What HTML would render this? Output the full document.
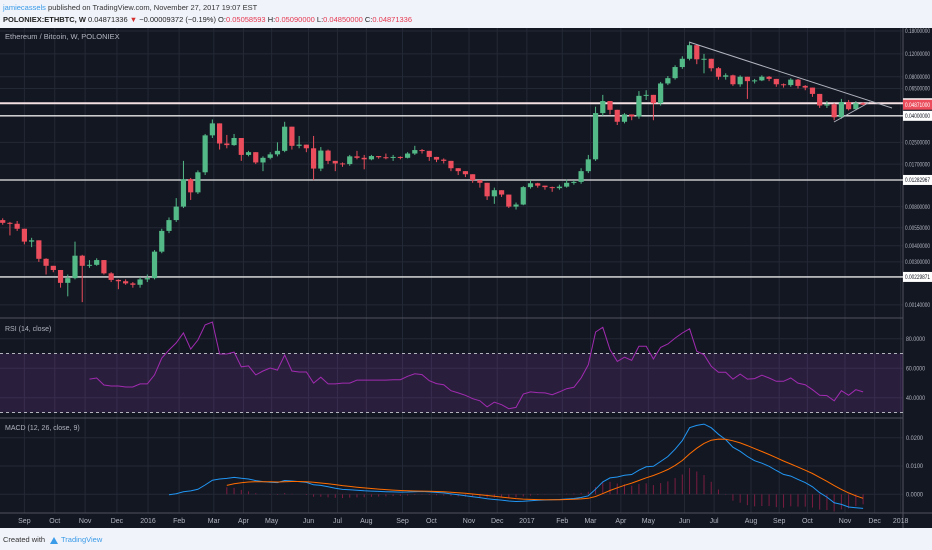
<!DOCTYPE html>
<html><head><meta charset="utf-8"><style>
body{margin:0;width:932px;height:550px;overflow:hidden;background:#f0f3fa;font-family:"Liberation Sans",sans-serif}
svg{display:block}
</style></head><body>
<svg id="c" width="932" height="550" xmlns="http://www.w3.org/2000/svg">
<rect x="0" y="0" width="932" height="550" fill="#f0f3fa"/>
<text x="3" y="10" font-size="7.5" fill="#333"><tspan fill="#3a9be8">jamiecassels</tspan> published on TradingView.com, November 27, 2017 19:07 EST</text>
<text x="3" y="22" font-size="7.5" fill="#222"><tspan font-weight="bold">POLONIEX:ETHBTC, W</tspan> 0.04871336 <tspan fill="#d32f2f">▼</tspan> −0.00009372 (−0.19%) O:<tspan fill="#e53950">0.05058593</tspan> H:<tspan fill="#e53950">0.05090000</tspan> L:<tspan fill="#e53950">0.04850000</tspan> C:<tspan fill="#e53950">0.04871336</tspan></text>
<rect x="0" y="28" width="932" height="500" fill="#131722"/>
<g id="grid"></g>
<g id="panes"></g>
<g id="main"></g>
<g id="ind"></g>
<g id="axis"></g>
<text x="5" y="39" font-size="7.5" fill="#b2b5be">Ethereum / Bitcoin, W, POLONIEX</text>
<text x="5" y="331" font-size="7" fill="#b2b5be">RSI (14, close)</text>
<text x="5" y="430" font-size="7" fill="#b2b5be">MACD (12, 26, close, 9)</text>
<text x="3" y="542" font-size="7.5" fill="#333">Created with</text>
<path d="M50 544 l4 -7 l4 7 z" fill="#3a9be8"/>
<text x="61" y="542" font-size="7.5" fill="#3a9be8">TradingView</text>
</svg>
<script>
const closes=[0.0060,0.0059,0.0054,0.0043,0.0044,0.00317,0.0028,0.0026,0.00207,0.00225,0.00335,0.0028,0.00285,0.0031,0.00245,0.00218,0.00213,0.00205,0.0020,0.0022,0.00225,0.0036,0.0052,0.0063,0.0080,0.0130,0.0103,0.0147,0.0283,0.0350,0.0245,0.0238,0.027,0.020,0.021,0.0175,0.019,0.0202,0.0215,0.033,0.0235,0.024,0.0225,0.0157,0.0216,0.018,0.0172,0.0170,0.0195,0.019,0.0185,0.0196,0.0192,0.019,0.0193,0.019,0.0205,0.0218,0.0215,0.0193,0.0184,0.018,0.0158,0.0150,0.0142,0.0128,0.0122,0.0096,0.0107,0.0099,0.0080,0.0083,0.0113,0.0121,0.0116,0.0113,0.0111,0.0114,0.0122,0.0124,0.0150,0.0185,0.0420,0.052,0.0445,0.036,0.041,0.0395,0.057,0.058,0.050,0.071,0.078,0.095,0.11,0.140,0.109,0.110,0.093,0.080,0.082,0.070,0.080,0.074,0.075,0.080,0.077,0.070,0.069,0.076,0.068,0.066,0.059,0.048,0.049,0.039,0.051,0.045,0.050,0.04871];
const firstOpen=0.0063;
const highs=[.0065,.0061,.0062,.0054,.0046,.0044,.0032,.0028,.0026,.0024,.0043,.0034,.0031,.0032,.0031,.0025,.0022,.0022,.0021,.0023,.0024,.0037,.0054,.0066,.0093,.0180,.0133,.0152,.029,.0375,.035,.0285,.029,.027,.0215,.021,.0195,.021,.025,.036,.033,.028,.024,.028,.023,.022,.018,.0175,.020,.0215,.020,.020,.0196,.0205,.020,.0195,.021,.0235,.0222,.0215,.0193,.0188,.018,.0158,.0150,.0142,.0128,.0122,.0112,.0107,.0099,.0086,.0115,.0128,.0122,.0116,.0114,.0118,.0129,.0128,.0158,.020,.047,.058,.052,.0445,.042,.041,.062,.063,.058,.073,.081,.098,.115,.146,.141,.12,.11,.095,.085,.083,.082,.08,.077,.082,.081,.077,.071,.078,.077,.069,.066,.059,.052,.05,.054,.053,.052,.0509];
const lows=[.0058,.0048,.0052,.0041,.0039,.0030,.0024,.0025,.0019,.00163,.0022,.00147,.0027,.0028,.0024,.0021,.00185,.0020,.0019,.0019,.0021,.0022,.0035,.0050,.0061,.0078,.0090,.0100,.0140,.0270,.0220,.0225,.0235,.0180,.0195,.0170,.0150,.0185,.0195,.021,.022,.0225,.021,.0128,.015,.017,.0150,.0162,.0165,.0185,.0155,.0182,.0187,.0185,.018,.0185,.0188,.020,.0205,.018,.0176,.0172,.015,.0140,.0135,.0122,.0112,.0090,.0084,.0095,.0078,.0076,.0082,.0110,.0112,.0108,.0104,.0108,.0112,.0118,.0120,.0145,.0180,.040,.041,.034,.035,.037,.038,.053,.037,.048,.069,.076,.092,.107,.100,.085,.088,.076,.076,.068,.067,.054,.071,.074,.074,.067,.066,.067,.065,.063,.056,.046,.046,.037,.038,.044,.044,.0485];
const rsiStart=12;
const rsiValues=[52.7,53.4,48.7,48,48,47.3,47.3,49.4,49.4,55.5,67,72.4,77.2,84,73,79.2,89.4,91.4,69.7,69.7,71,61,61.6,55.5,58.2,60.2,58.8,69,58.2,57.5,57.5,50,54,49.4,49.4,50,50,52,52,52,52,52,52.3,52.3,54.6,56.3,55.7,51.6,49.6,48.9,44.8,43.3,41.7,39.4,38,33.8,37,35.3,32.6,33.5,42.6,44,43.5,43.3,42.1,44,46.2,47.1,53.4,62.4,84.6,87.8,72.6,64.7,67.5,65.4,74.9,74.9,66.3,74.2,76.5,80.5,83.9,86.8,71.5,69.2,61.4,57.3,57.3,52.7,56.1,52.7,53,55.3,53.4,51.2,51.2,53.4,50,48.9,45.5,41.7,41.5,38,44.8,41.7,45.5,44];
const priceTicks=["0.18000000","0.12000000","0.08000000","0.06500000","0.04000000","0.02500000","0.01700000","0.00800000","0.00550000","0.00400000","0.00300000","0.00140000"];
const levels=[0.05,0.04,0.01282967,0.00229871];
const levelLabels=["0.05000000","0.04000000","0.01282967","0.00229871"];
const monthLabels=["Sep","Oct","Nov","Dec","2016","Feb","Mar","Apr","May","Jun","Jul","Aug","Sep","Oct","Nov","Dec","2017","Feb","Mar","Apr","May","Jun","Jul","Aug","Sep","Oct","Nov","Dec","2018"];
const monthWeeks=[3,7.2,11.4,15.8,20.1,24.4,29.2,33.3,37.2,42.3,46.3,50.3,55.3,59.3,64.5,68.4,72.5,77.4,81.3,85.5,89.3,94.3,98.4,103.5,107.4,111.3,116.5,120.6,124.2];
const rsiTicks=[80,60,40];
const macdTicks=[0.02,0.01,0];

const NS="http://www.w3.org/2000/svg";
function mk(parent,tag,attrs){const e=document.createElementNS(NS,tag);for(const k in attrs)e.setAttribute(k,attrs[k]);document.getElementById(parent).appendChild(e);return e;}
const PW=903;
const xOf=i=>2.7+7.23*i;
const yP=p=>31+(Math.log(0.18)-Math.log(p))*56.4;
const yR=v=>368.3-(v-60)*1.475;
const yM=v=>494.3-v*2830;

monthWeeks.forEach((w,k)=>{
  let l=mk('grid','line',{x1:xOf(w),x2:xOf(w),y1:28,y2:513,stroke:'#242936','stroke-width':1});
  
  
  let t=mk('axis','text',{x:xOf(w),y:523,'font-size':7,fill:'#b2b5be','text-anchor':'middle'});
  t.textContent=monthLabels[k];
  
  
});
priceTicks.forEach(s=>{
  const y=yP(parseFloat(s));
  let l=mk('grid','line',{x1:0,x2:PW,y1:y,y2:y,stroke:'#242936'});
  
  
  let t=mk('axis','text',{x:905,y:y+2.2,'font-size':6,fill:'#b2b5be',textLength:25,lengthAdjust:'spacingAndGlyphs'});
  t.textContent=s;
  
  
});
rsiTicks.forEach(v=>{
  const y=yR(v);
  let l=mk('grid','line',{x1:0,x2:PW,y1:y,y2:y,stroke:'#242936'});
  
  
  let t=mk('axis','text',{x:906,y:y+2.2,'font-size':6,fill:'#b2b5be',textLength:19,lengthAdjust:'spacingAndGlyphs'});
  t.textContent=v.toFixed(4);
  
  
});
macdTicks.forEach(v=>{
  const y=yM(v);
  let l=mk('grid','line',{x1:0,x2:PW,y1:y,y2:y,stroke:'#242936'});
  
  
  let t=mk('axis','text',{x:906,y:y+2.2,'font-size':6,fill:'#b2b5be',textLength:17,lengthAdjust:'spacingAndGlyphs'});
  t.textContent=v.toFixed(4);
  
  
});
[[0,318,PW,318],[0,418,PW,418],[0,513,932,513],[PW,28,PW,528]].forEach(a=>{
  let l=mk('panes','line',{x1:a[0],y1:a[1],x2:a[2],y2:a[3],stroke:'#50535e','stroke-width':1});
  
  
});
let band=mk('panes','rect',{x:0,y:yR(70),width:PW,height:yR(30)-yR(70),fill:'rgba(126,60,160,0.22)'});


[70,30].forEach(v=>{
  let l=mk('panes','line',{x1:0,x2:PW,y1:yR(v),y2:yR(v),stroke:'#b2b5be','stroke-dasharray':'3,3'});
  
  
});
levels.forEach((p,k)=>{
  const y=yP(p);
  let l=mk('main','line',{x1:0,x2:PW,y1:y,y2:y,stroke:k==0?'#f4dfe3':'#e8e8e8','stroke-width':k==0?2:1.3});
  
  
  let r=mk('axis','rect',{x:903,y:y-5,width:29,height:10,fill:'#ffffff'});
  
  
  let t=mk('axis','text',{x:905,y:y+2.2,'font-size':6,fill:'#131722',textLength:25,lengthAdjust:'spacingAndGlyphs'});
  t.textContent=levelLabels[k];
  
  
});
const opens=closes.map((c,i)=>i==0?firstOpen:closes[i-1]);
closes.forEach((c,i)=>{
  const o=opens[i],x=xOf(i),up=c>=o,col=up?'#53b987':'#eb4d5c';
  let w=mk('main','line',{x1:x,x2:x,y1:yP(highs[i]),y2:yP(lows[i]),stroke:col,'stroke-width':1});
  
  
  const y1=yP(Math.max(o,c)),y2=yP(Math.min(o,c));
  let b=mk('main','rect',{x:x-2.6,y:y1,width:5.2,height:Math.max(1,y2-y1),fill:col});
  
  
});
let t1=mk('main','line',{x1:689,y1:42,x2:892,y2:108,stroke:'#b2b5be','stroke-width':1});


let t2=mk('main','line',{x1:834,y1:122,x2:870,y2:102,stroke:'#b2b5be','stroke-width':1});


{const last=closes[closes.length-1],y=yP(last);
let r=mk('axis','rect',{x:903,y:y-5,width:29,height:10,fill:'#eb4d5c'});


let t=mk('axis','text',{x:905,y:y+2.2,'font-size':6,fill:'#fff',textLength:25,lengthAdjust:'spacingAndGlyphs'});
t.textContent=last.toFixed(8);

}
{let d='';rsiValues.forEach((v,k)=>{d+=(d?'L':'M')+xOf(k+rsiStart).toFixed(1)+' '+yR(v).toFixed(1);});
let p=mk('ind','path',{d:d,fill:'none',stroke:'#a12bb0','stroke-width':1});

}
const ema=(arr,n)=>{const k=2/(n+1);let e=arr[0];return arr.map((v,i)=>i==0?e:(e=v*k+e*(1-k)));};
const e12=ema(closes,12),e26=ema(closes,26);
const macd=closes.map((c,i)=>e12[i]-e26[i]);
const sig=ema(macd,9);
{let d='',d2='';
macd.forEach((v,i)=>{if(i>=23)d+=(d?'L':'M')+xOf(i).toFixed(1)+' '+yM(v).toFixed(1);
 if(i>=31)d2+=(d2?'L':'M')+xOf(i).toFixed(1)+' '+yM(sig[i]).toFixed(1);
 if(i>=31){const h=v-sig[i];
  let b=mk('ind','line',{x1:xOf(i),x2:xOf(i),y1:yM(0),y2:yM(h),stroke:'#7a1d40','stroke-width':1});
  
  }});
let p=mk('ind','path',{d:d,fill:'none',stroke:'#2196f3','stroke-width':1});


let q=mk('ind','path',{d:d2,fill:'none',stroke:'#ff6d00','stroke-width':1});

}
</script>
</body></html>
